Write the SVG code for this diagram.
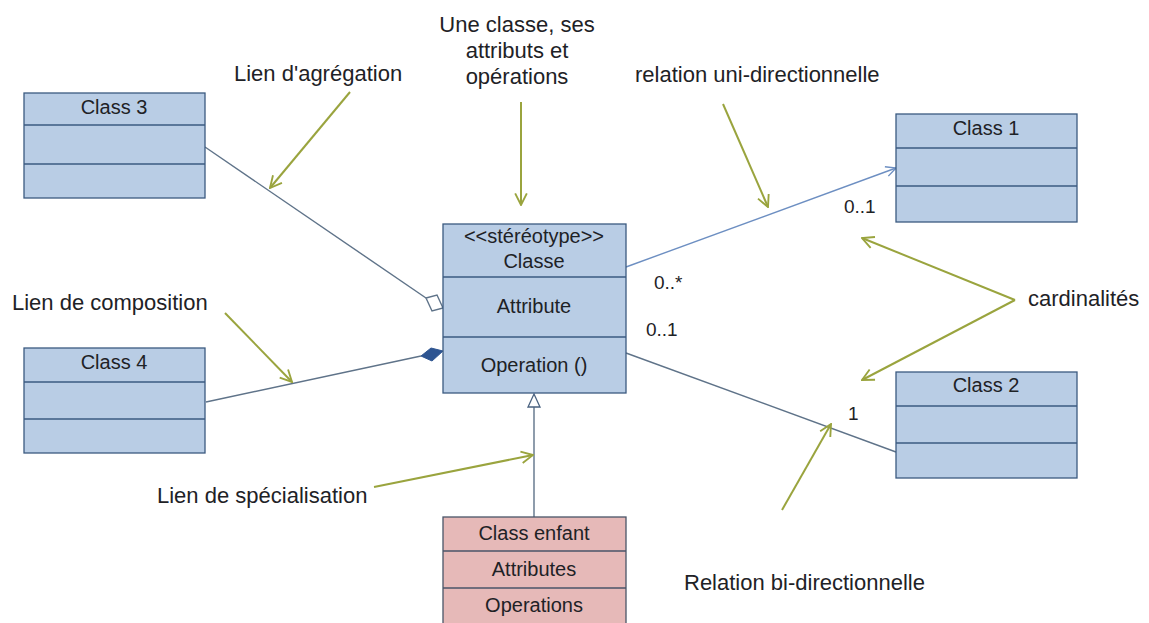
<svg xmlns="http://www.w3.org/2000/svg" width="1149" height="623" viewBox="0 0 1149 623">
  <style>
    .box { fill: #B9CDE5; stroke: #3B5A80; stroke-width: 1.3; }
    .child { fill: #E6B9B8; stroke: #4A5568; stroke-width: 1.3; }
    .div { stroke: #3B5A80; stroke-width: 1.3; }
    .divc { stroke: #4A5568; stroke-width: 1.3; }
    .t { font-family: "Liberation Sans", Arial, sans-serif; fill: #1E2226; }
    .title { font-size: 20px; text-anchor: middle; }
    .note { font-size: 22px; }
    .card { font-size: 19px; }
    .assoc { fill: none; stroke: #5F7389; stroke-width: 1.4; }
    .uni { fill: none; stroke: #6D8FC2; stroke-width: 1.4; }
    .pointer { fill: none; stroke: #9AA43E; stroke-width: 2; marker-end: url(#vhead); }
  </style>
  <defs>
    <marker id="vhead" viewBox="0 0 12 12" refX="11" refY="6" markerWidth="14" markerHeight="14" markerUnits="userSpaceOnUse" orient="auto">
      <path d="M1,1 L11,6 L1,11" fill="none" stroke="#9AA43E" stroke-width="1.6"/>
    </marker>
    <marker id="openhead" viewBox="0 0 12 12" refX="11" refY="6" markerWidth="12" markerHeight="12" markerUnits="userSpaceOnUse" orient="auto">
      <path d="M1,1 L11,6 L1,11" fill="none" stroke="#6D8FC2" stroke-width="1.4"/>
    </marker>
  </defs>

  <rect width="1149" height="623" fill="#FFFFFF"/>

  <!-- connectors -->
  <g id="connectors">
    <!-- aggregation: Class 3 to Classe -->
    <line class="assoc" x1="205" y1="147" x2="426" y2="298"/>
    <path d="M426,298 L437,295 L443,308 L432,311 Z" fill="#FFFFFF" stroke="#5F7389" stroke-width="1.4"/>
    <!-- composition: Class 4 to Classe -->
    <line class="assoc" x1="206" y1="402" x2="421" y2="356" stroke="#4A6280"/>
    <path d="M421,356 L431,348 L443,351 L432,361 Z" fill="#2E5591" stroke="#2E5591" stroke-width="1"/>
    <!-- uni-directional association -->
    <line class="uni" x1="626" y1="267" x2="896" y2="168" marker-end="url(#openhead)"/>
    <!-- bi-directional association -->
    <line class="assoc" x1="626" y1="353" x2="896" y2="452"/>
    <!-- specialisation -->
    <line class="assoc" x1="534" y1="407" x2="534" y2="517" stroke="#4A6280"/>
    <path d="M534,394 L540,407 L528,407 Z" fill="#FFFFFF" stroke="#4A6280" stroke-width="1.3"/>

    <!-- annotation pointers -->
    <line class="pointer" x1="350" y1="92" x2="270" y2="188"/>
    <line class="pointer" x1="521" y1="102" x2="521" y2="205"/>
    <line class="pointer" x1="723" y1="104" x2="768" y2="207"/>
    <line class="pointer" x1="1015" y1="300" x2="862" y2="238"/>
    <line class="pointer" x1="1015" y1="300" x2="862" y2="380"/>
    <line class="pointer" x1="225" y1="313" x2="292" y2="382"/>
    <line class="pointer" x1="374" y1="487" x2="533" y2="455"/>
    <line class="pointer" x1="782" y1="510" x2="831" y2="424"/>
  </g>

  <!-- Class 3 -->
  <g id="class3">
    <rect class="box" x="24" y="93" width="181" height="105"/>
    <line class="div" x1="24" y1="125" x2="205" y2="125"/>
    <line class="div" x1="24" y1="164" x2="205" y2="164"/>
    <text class="t title" x="114" y="114">Class 3</text>
  </g>

  <!-- Class 4 -->
  <g id="class4">
    <rect class="box" x="24" y="348" width="181" height="105"/>
    <line class="div" x1="24" y1="382" x2="205" y2="382"/>
    <line class="div" x1="24" y1="419" x2="205" y2="419"/>
    <text class="t title" x="114" y="369">Class 4</text>
  </g>

  <!-- Main class -->
  <g id="classe">
    <rect class="box" x="443" y="224" width="183" height="169"/>
    <line class="div" x1="443" y1="277" x2="626" y2="277"/>
    <line class="div" x1="443" y1="337" x2="626" y2="337"/>
    <text class="t title" x="534" y="243">&lt;&lt;stéréotype&gt;&gt;</text>
    <text class="t title" x="534" y="268">Classe</text>
    <text class="t title" x="534" y="313">Attribute</text>
    <text class="t title" x="534" y="372">Operation ()</text>
  </g>

  <!-- Child class -->
  <g id="class-enfant">
    <rect class="child" x="443" y="517" width="183" height="110"/>
    <line class="divc" x1="443" y1="551" x2="626" y2="551"/>
    <line class="divc" x1="443" y1="588" x2="626" y2="588"/>
    <text class="t title" x="534" y="540">Class enfant</text>
    <text class="t title" x="534" y="576">Attributes</text>
    <text class="t title" x="534" y="612">Operations</text>
  </g>

  <!-- Class 1 -->
  <g id="class1">
    <rect class="box" x="896" y="114" width="181" height="108"/>
    <line class="div" x1="896" y1="148" x2="1077" y2="148"/>
    <line class="div" x1="896" y1="186" x2="1077" y2="186"/>
    <text class="t title" x="986" y="135">Class 1</text>
  </g>

  <!-- Class 2 -->
  <g id="class2">
    <rect class="box" x="896" y="372" width="181" height="106"/>
    <line class="div" x1="896" y1="406" x2="1077" y2="406"/>
    <line class="div" x1="896" y1="443" x2="1077" y2="443"/>
    <text class="t title" x="986" y="392">Class 2</text>
  </g>

  <!-- cardinalities -->
  <g id="cardinalities">
    <text class="t card" x="844" y="213">0..1</text>
    <text class="t card" x="654" y="289">0..*</text>
    <text class="t card" x="646" y="336">0..1</text>
    <text class="t card" x="848" y="420">1</text>
  </g>

  <!-- annotations -->
  <g id="annotations">
    <text class="t note" x="234" y="81">Lien d'agrégation</text>
    <text class="t note" x="517" y="32" text-anchor="middle">Une classe, ses</text>
    <text class="t note" x="517" y="58" text-anchor="middle">attributs et</text>
    <text class="t note" x="517" y="84" text-anchor="middle">opérations</text>
    <text class="t note" x="635" y="82">relation uni-directionnelle</text>
    <text class="t note" x="12" y="310">Lien de composition</text>
    <text class="t note" x="1028" y="306">cardinalités</text>
    <text class="t note" x="157" y="503">Lien de spécialisation</text>
    <text class="t note" x="684" y="590">Relation bi-directionnelle</text>
  </g>
</svg>
